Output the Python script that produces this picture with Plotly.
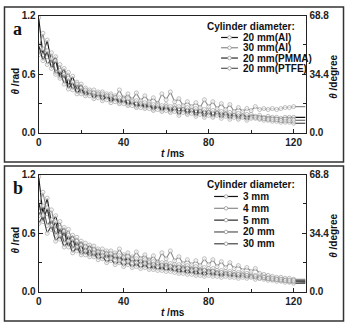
import plotly.graph_objects as go

# time axis (ms); last point is the flat tail that runs to the right axis
t = list(range(0, 122, 2)) + [125.5]

# panel a: cylinders of different material (theta in rad)
a_names = ["20 mm(Al)", "30 mm(Al)", "20 mm(PMMA)", "20 mm(PTFE)"]
a_al20 = [1.18, 0.80, 0.95, 0.72, 0.78, 0.58, 0.66, 0.48, 0.58, 0.44,
          0.50, 0.40, 0.44, 0.38, 0.42, 0.36, 0.40, 0.33, 0.38, 0.31,
          0.36, 0.29, 0.33, 0.27, 0.32, 0.26, 0.31, 0.24, 0.30, 0.23,
          0.29, 0.22, 0.28, 0.21, 0.27, 0.20, 0.26, 0.19, 0.25, 0.18,
          0.24, 0.17, 0.23, 0.17, 0.22, 0.16, 0.21, 0.15, 0.20, 0.15,
          0.19, 0.17, 0.18, 0.16, 0.17, 0.16, 0.16, 0.15, 0.16, 0.16,
          0.16, 0.16]
a_al30 = [0.85, 1.02, 0.78, 0.82, 0.62, 0.70, 0.55, 0.62, 0.48, 0.52,
          0.42, 0.46, 0.40, 0.44, 0.38, 0.42, 0.37, 0.40, 0.36, 0.44,
          0.35, 0.40, 0.34, 0.41, 0.33, 0.38, 0.32, 0.36, 0.30, 0.40,
          0.34, 0.42, 0.32, 0.35, 0.28, 0.32, 0.27, 0.31, 0.26, 0.34,
          0.27, 0.32, 0.25, 0.30, 0.24, 0.29, 0.22, 0.26, 0.22, 0.25,
          0.23, 0.27, 0.24, 0.25, 0.24, 0.25, 0.24, 0.25, 0.26, 0.26,
          0.27, 0.27]
a_pmma = [0.90, 0.74, 0.84, 0.66, 0.74, 0.56, 0.60, 0.45, 0.52, 0.40,
          0.46, 0.38, 0.42, 0.35, 0.40, 0.33, 0.38, 0.31, 0.36, 0.30,
          0.34, 0.28, 0.32, 0.26, 0.30, 0.25, 0.29, 0.23, 0.28, 0.22,
          0.27, 0.21, 0.25, 0.18, 0.24, 0.19, 0.23, 0.17, 0.22, 0.16,
          0.21, 0.16, 0.20, 0.15, 0.19, 0.14, 0.18, 0.14, 0.17, 0.13,
          0.16, 0.15, 0.14, 0.13, 0.13, 0.12, 0.12, 0.11, 0.11, 0.11,
          0.10, 0.10]
a_ptfe = [0.80, 0.86, 0.70, 0.76, 0.60, 0.64, 0.50, 0.56, 0.44, 0.50,
          0.40, 0.44, 0.38, 0.41, 0.36, 0.40, 0.34, 0.38, 0.32, 0.36,
          0.30, 0.35, 0.28, 0.33, 0.26, 0.31, 0.25, 0.29, 0.24, 0.28,
          0.23, 0.27, 0.22, 0.27, 0.21, 0.26, 0.20, 0.25, 0.19, 0.24,
          0.18, 0.23, 0.18, 0.22, 0.17, 0.21, 0.16, 0.20, 0.16, 0.19,
          0.15, 0.16, 0.15, 0.15, 0.14, 0.14, 0.14, 0.13, 0.14, 0.13,
          0.13, 0.13]

# panel b: Al cylinders of different diameter
b_names = ["3 mm", "4 mm", "5 mm", "20 mm", "30 mm"]
b_3 = [1.18, 0.80, 0.96, 0.70, 0.78, 0.60, 0.66, 0.52, 0.58, 0.46,
       0.52, 0.42, 0.48, 0.40, 0.44, 0.37, 0.42, 0.35, 0.40, 0.33,
       0.38, 0.31, 0.36, 0.30, 0.34, 0.28, 0.33, 0.26, 0.31, 0.25,
       0.30, 0.24, 0.28, 0.22, 0.27, 0.21, 0.26, 0.20, 0.25, 0.19,
       0.24, 0.18, 0.22, 0.17, 0.21, 0.17, 0.20, 0.16, 0.19, 0.16,
       0.18, 0.15, 0.16, 0.14, 0.14, 0.13, 0.13, 0.12, 0.12, 0.11,
       0.11, 0.11]
b_4 = [0.86, 1.02, 0.80, 0.84, 0.64, 0.72, 0.56, 0.64, 0.50, 0.56,
       0.46, 0.50, 0.42, 0.47, 0.40, 0.44, 0.38, 0.42, 0.36, 0.44,
       0.36, 0.40, 0.34, 0.41, 0.34, 0.38, 0.32, 0.37, 0.30, 0.40,
       0.34, 0.42, 0.32, 0.36, 0.29, 0.33, 0.28, 0.32, 0.27, 0.34,
       0.28, 0.33, 0.26, 0.31, 0.25, 0.30, 0.24, 0.27, 0.22, 0.25,
       0.21, 0.24, 0.19, 0.18, 0.17, 0.16, 0.15, 0.15, 0.14, 0.14,
       0.13, 0.13]
b_5 = [0.92, 0.72, 0.86, 0.64, 0.72, 0.54, 0.62, 0.46, 0.54, 0.42,
       0.48, 0.38, 0.44, 0.36, 0.41, 0.34, 0.39, 0.32, 0.37, 0.30,
       0.35, 0.28, 0.33, 0.26, 0.31, 0.25, 0.30, 0.23, 0.28, 0.22,
       0.27, 0.21, 0.25, 0.19, 0.24, 0.18, 0.23, 0.17, 0.22, 0.16,
       0.21, 0.16, 0.20, 0.15, 0.19, 0.15, 0.18, 0.14, 0.17, 0.14,
       0.16, 0.13, 0.14, 0.13, 0.12, 0.12, 0.11, 0.11, 0.10, 0.10,
       0.09, 0.09]
b_20 = [0.78, 0.88, 0.68, 0.74, 0.58, 0.66, 0.50, 0.58, 0.44, 0.52,
        0.40, 0.46, 0.38, 0.43, 0.36, 0.40, 0.34, 0.39, 0.33, 0.37,
        0.31, 0.36, 0.30, 0.34, 0.28, 0.33, 0.27, 0.31, 0.26, 0.30,
        0.25, 0.29, 0.24, 0.28, 0.23, 0.27, 0.22, 0.26, 0.21, 0.25,
        0.20, 0.24, 0.19, 0.22, 0.18, 0.21, 0.17, 0.20, 0.17, 0.19,
        0.16, 0.17, 0.15, 0.15, 0.14, 0.13, 0.13, 0.12, 0.12, 0.11,
        0.11, 0.10]
b_30 = [0.70, 0.78, 0.60, 0.68, 0.52, 0.58, 0.46, 0.52, 0.40, 0.46,
        0.38, 0.42, 0.36, 0.40, 0.33, 0.37, 0.30, 0.34, 0.28, 0.32,
        0.26, 0.31, 0.25, 0.30, 0.24, 0.29, 0.23, 0.28, 0.22, 0.27,
        0.21, 0.26, 0.20, 0.25, 0.19, 0.24, 0.18, 0.23, 0.17, 0.22,
        0.17, 0.21, 0.16, 0.20, 0.16, 0.19, 0.15, 0.18, 0.15, 0.17,
        0.15, 0.16, 0.14, 0.15, 0.14, 0.14, 0.13, 0.13, 0.12, 0.12,
        0.12, 0.12]

a_series = [a_al20, a_al30, a_pmma, a_ptfe]
b_series = [b_3, b_4, b_5, b_20, b_30]
for s in a_series + b_series:
    assert len(s) == len(t)

a_lines = ["#111111", "#8a8a8a", "#2a2a2a", "#555555"]
b_lines = ["#111111", "#8a8a8a", "#2a2a2a", "#555555", "#444444"]
mk_col = "#999999"

W, H = 345, 328
def px(x):
    return x / W
def py(y):
    return 1 - y / H

FONT = "Arial, Liberation Sans, sans-serif"
msize = [4] * (len(t) - 1) + [0]

fig = go.Figure()
for vals, name, col in zip(a_series, a_names, a_lines):
    fig.add_trace(go.Scatter(x=t, y=vals, name=name, mode="lines+markers",
                             line=dict(color=col, width=1.1),
                             marker=dict(symbol="circle", size=msize, color="white",
                                         line=dict(color=mk_col, width=0.9)),
                             xaxis="x", yaxis="y", showlegend=False))
for vals, name, col in zip(b_series, b_names, b_lines):
    fig.add_trace(go.Scatter(x=t, y=vals, name=name, mode="lines+markers",
                             line=dict(color=col, width=1.1),
                             marker=dict(symbol="circle", size=msize, color="white",
                                         line=dict(color=mk_col, width=0.9)),
                             xaxis="x2", yaxis="y3", showlegend=False))
# empty traces so the degree axes get drawn
for ya in ["y2", "y4"]:
    fig.add_trace(go.Scatter(x=[], y=[], xaxis="x" if ya == "y2" else "x2", yaxis=ya,
                             showlegend=False, hoverinfo="skip"))

tickf = dict(family=FONT, size=10, color="#222", weight="bold")
ax_line = dict(showline=True, linecolor="#222", linewidth=1.2, showgrid=False,
               zeroline=False, ticks="inside", ticklen=4, tickcolor="#222",
               tickfont=tickf)

dom_x = [px(36), px(306)]
dom_a = [py(132), py(11)]
dom_b = [py(296), py(175)]

xcommon = dict(ax_line, range=[0, 126], tickvals=[0, 40, 80, 120], mirror=True,
               minor=dict(tickvals=[20, 60, 100], ticks="inside", ticklen=3, tickcolor="#222"))
ycommon = dict(ax_line, range=[0, 1.2], tickvals=[0, 0.6, 1.2],
               ticktext=["0.0", "0.6", "1.2"],
               minor=dict(tickvals=[0.3, 0.9], ticks="inside", ticklen=3, tickcolor="#222"))
y2common = dict(ax_line, range=[0, 68.8], tickvals=[0, 34.4, 68.8],
                ticktext=["0.0", "34.4", "68.8"], side="right",
                minor=dict(tickvals=[17.2, 51.6], ticks="inside", ticklen=3, tickcolor="#222"))

fig.update_layout(
    width=W, height=H, margin=dict(l=0, r=0, t=0, b=0),
    paper_bgcolor="white", plot_bgcolor="white",
    xaxis=dict(xcommon, domain=dom_x, anchor="y"),
    yaxis=dict(ycommon, domain=dom_a, anchor="x"),
    yaxis2=dict(y2common, domain=dom_a, anchor="x", overlaying="y"),
    xaxis2=dict(xcommon, domain=dom_x, anchor="y3"),
    yaxis3=dict(ycommon, domain=dom_b, anchor="x2"),
    yaxis4=dict(y2common, domain=dom_b, anchor="x2", overlaying="y3"),
)

shapes = []
annos = []
lab = dict(family=FONT, size=10, color="#111", weight="bold")

def note(text, x, y, **kw):
    d = dict(text=text, x=px(x), y=py(y), xref="paper", yref="paper",
             showarrow=False, xanchor="center", yanchor="middle", font=lab)
    d.update(kw)
    annos.append(d)

# panel frames
for top, bot in [(2, 162), (166, 326)]:
    shapes.append(dict(type="rect", xref="paper", yref="paper",
                       x0=px(1.5), x1=px(343.5), y0=py(bot), y1=py(top),
                       line=dict(color="#333", width=1.5)))

# axis titles and panel letters
for letter, top in [("a", 0), ("b", 164)]:
    note("<b>" + letter + "</b>", 15, top + 25,
         font=dict(family="Times New Roman, Liberation Serif, serif", size=18, color="#111"))
    note("<i>θ</i> /rad", 13, top + 78, textangle=-90)
    note("<i>θ</i> /degree", 334, top + 74, textangle=-90)
    note("<i>t</i> /ms", 171, top + 153)

# hand-drawn legends
legends = [
    (a_names, a_lines, 297, 22, 220, 33.5, 10.6),
    (b_names, b_lines, 297, 185, 213, 197.5, 12.2),
]
for names, cols, title_r, title_y, lx0, y0, step in legends:
    note("Cylinder diameter:", title_r, title_y, xanchor="right")
    for i, (name, col) in enumerate(zip(names, cols)):
        yy = y0 + i * step
        shapes.append(dict(type="line", xref="paper", yref="paper",
                           x0=px(lx0), x1=px(237), y0=py(yy), y1=py(yy),
                           line=dict(color=col, width=1.2)))
        cx = (lx0 + 237) / 2
        shapes.append(dict(type="circle", xref="paper", yref="paper",
                           x0=px(cx - 1.8), x1=px(cx + 1.8), y0=py(yy + 1.8), y1=py(yy - 1.8),
                           fillcolor="white", line=dict(color=mk_col, width=0.8)))
        note(name, 240, yy, xanchor="left")

fig.update_layout(shapes=shapes, annotations=annos)
fig.write_html("out.html", config={"displayModeBar": False},
               post_script="document.body.style.margin='0';")
